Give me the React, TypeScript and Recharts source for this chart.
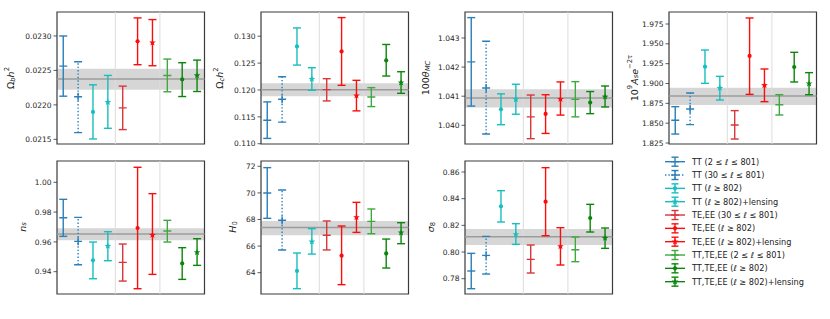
import React from "react";
import {
  ComposedChart,
  Scatter,
  ErrorBar,
  XAxis,
  YAxis,
  ReferenceArea,
  ReferenceLine,
} from "recharts";

type Tri = [number, number, number]; // [lower, value, upper]

const seriesLabels = [
  "TT (2 ≤ ℓ ≤ 801)",
  "TT (30 ≤ ℓ ≤ 801)",
  "TT (ℓ ≥ 802)",
  "TT (ℓ ≥ 802)+lensing",
  "TE,EE (30 ≤ ℓ ≤ 801)",
  "TE,EE (ℓ ≥ 802)",
  "TE,EE (ℓ ≥ 802)+lensing",
  "TT,TE,EE (2 ≤ ℓ ≤ 801)",
  "TT,TE,EE (ℓ ≥ 802)",
  "TT,TE,EE (ℓ ≥ 802)+lensing",
];

const ombh2: Tri[] = [
  [0.022126, 0.022563, 0.023],
  [0.021597, 0.022117, 0.022626],
  [0.021505, 0.021898, 0.022291],
  [0.02166, 0.022039, 0.022427],
  [0.021641, 0.021956, 0.022272],
  [0.022583, 0.022922, 0.023262],
  [0.022568, 0.022903, 0.023238],
  [0.02219, 0.022427, 0.022665],
  [0.022121, 0.02237, 0.022612],
  [0.022194, 0.022427, 0.02265],
];
const ombh2Band: Tri = [0.022218, 0.022374, 0.022524];

const omch2: Tri[] = [
  [0.11099, 0.11438, 0.11778],
  [0.11401, 0.11827, 0.12247],
  [0.12463, 0.12809, 0.13154],
  [0.11994, 0.12204, 0.12414],
  [0.11796, 0.12006, 0.1221],
  [0.12086, 0.12716, 0.13346],
  [0.11611, 0.11895, 0.12179],
  [0.11691, 0.1187, 0.12043],
  [0.12259, 0.12549, 0.12846],
  [0.11938, 0.12136, 0.12339],
];
const omch2Band: Tri = [0.11883, 0.12006, 0.12123];

const thetaMC: Tri[] = [
  [1.04066, 1.04218, 1.0437],
  [1.0397, 1.04128, 1.04289],
  [1.04002, 1.04055, 1.04108],
  [1.04038, 1.04089, 1.04141],
  [1.03954, 1.04029, 1.04104],
  [1.03972, 1.04039, 1.04105],
  [1.04035, 1.0409, 1.04149],
  [1.04029, 1.04089, 1.0415],
  [1.0404, 1.04078, 1.04116],
  [1.04063, 1.04098, 1.04135],
];
const thetaBand: Tri = [1.04061, 1.04094, 1.04124];

const amp: Tri[] = [
  [1.8363, 1.8536, 1.8708],
  [1.8481, 1.8679, 1.888],
  [1.9002, 1.9212, 1.9422],
  [1.8792, 1.8943, 1.909],
  [1.83, 1.8477, 1.8658],
  [1.8863, 1.9347, 1.9826],
  [1.8771, 1.8977, 1.9183],
  [1.8603, 1.8733, 1.8859],
  [1.9019, 1.9208, 1.9393],
  [1.8859, 1.8998, 1.9137],
];
const ampBand: Tri = [1.8729, 1.8843, 1.8947];

const ns: Tri[] = [
  [0.96372, 0.97626, 0.98858],
  [0.94468, 0.96036, 0.97648],
  [0.93527, 0.9476, 0.95991],
  [0.94737, 0.95722, 0.96685],
  [0.93371, 0.94625, 0.95857],
  [0.92856, 0.96932, 1.01008],
  [0.93819, 0.96462, 0.99239],
  [0.95991, 0.9673, 0.97447],
  [0.93483, 0.94558, 0.95611],
  [0.94424, 0.95297, 0.96215],
];
const nsBand: Tri = [0.96103, 0.96529, 0.9691];

const h0: Tri[] = [
  [68.09, 69.99, 71.9],
  [65.71, 67.94, 70.22],
  [62.8, 64.13, 65.48],
  [65.4, 66.33, 67.31],
  [65.71, 66.81, 67.89],
  [63.1, 65.28, 67.51],
  [67.03, 68.16, 69.29],
  [66.93, 67.86, 68.79],
  [64.35, 65.45, 66.53],
  [66.18, 67.01, 67.76],
];
const h0Band: Tri = [66.81, 67.39, 67.89];

const sigma8: Tri[] = [
  [0.7725, 0.78575, 0.799],
  [0.7835, 0.7975, 0.81175],
  [0.8225, 0.83425, 0.846],
  [0.80575, 0.81325, 0.82125],
  [0.78425, 0.7945, 0.80525],
  [0.81225, 0.83775, 0.86325],
  [0.79025, 0.80425, 0.81825],
  [0.79275, 0.80175, 0.81125],
  [0.815, 0.8255, 0.83575],
  [0.80275, 0.8105, 0.818],
];
const sigma8Band: Tri = [0.80525, 0.8115, 0.81725];

const ombh2Ticks = [0.0215, 0.022, 0.0225, 0.023];
const omch2Ticks = [0.11, 0.115, 0.12, 0.125, 0.13];
const thetaTicks = [1.04, 1.041, 1.042, 1.043];
const ampTicks = [1.825, 1.85, 1.875, 1.9, 1.925, 1.95, 1.975];
const nsTicks = [0.94, 0.96, 0.98, 1.0];
const h0Ticks = [64, 66, 68, 70, 72];
const sigma8Ticks = [0.78, 0.8, 0.82, 0.84, 0.86];

// styles
const colors = [
  "#2a7fba", "#2a7fba", "#17bebe", "#17bebe", "#d8363a",
  "#fb0d0d", "#fb0d0d", "#3fa83f", "#0b850b", "#0b850b",
];
const markers = ["hline", "plus", "circle", "star", "hline", "circle", "star", "hline", "circle", "star"];
const FONT = "DejaVu Sans, sans-serif";
const X_DOMAIN: [number, number] = [-0.42, 9.5];

type LabelPart = { t: string; s?: "i" | "sub" | "sup" | "isub" };

function starPath(cx: number, cy: number, ro: number, ri: number) {
  let d = "";
  for (let k = 0; k < 10; k++) {
    const r = k % 2 === 0 ? ro : ri;
    const a = -Math.PI / 2 + (k * Math.PI) / 5;
    d += (k === 0 ? "M" : "L") + (cx + r * Math.cos(a)).toFixed(2) + "," + (cy + r * Math.sin(a)).toFixed(2);
  }
  return d + "Z";
}

function Marker({ cx, cy, kind, color }: { cx?: number; cy?: number; kind: string; color: string }) {
  if (cx == null || cy == null) return null;
  if (kind === "hline")
    return <line x1={cx - 4} x2={cx + 4} y1={cy} y2={cy} stroke={color} strokeWidth={1.4} />;
  if (kind === "plus")
    return (
      <g stroke={color} strokeWidth={1.4}>
        <line x1={cx - 4} x2={cx + 4} y1={cy} y2={cy} />
        <line x1={cx} x2={cx} y1={cy - 4} y2={cy + 4} />
      </g>
    );
  if (kind === "circle") return <circle cx={cx} cy={cy} r={2.1} fill={color} />;
  return <path d={starPath(cx, cy, 3.5, 1.5)} fill={color} />;
}

interface PanelProps {
  x: number;
  y: number;
  w: number;
  h: number;
  values: Tri[];
  band: Tri;
  domain: [number, number];
  ticks: number[];
  digits: number;
}

const YW = 60;
const PAD = 4;

function Panel({ x, y, w, h, values, band, domain, ticks, digits }: PanelProps) {
  const data = values.map((v, i) => ({ x: i, y: v[1], err: [v[1] - v[0], v[2] - v[1]] }));
  const dotted = values[1];
  return (
    <div style={{ position: "absolute", left: x - YW, top: y - PAD }}>
      <ComposedChart
        width={w + YW + PAD}
        height={h + 2 * PAD}
        margin={{ top: PAD, right: PAD, bottom: PAD, left: 0 }}
      >
        <XAxis type="number" dataKey="x" domain={X_DOMAIN} hide allowDataOverflow />
        <YAxis
          type="number"
          dataKey="y"
          domain={domain}
          ticks={ticks}
          interval={0}
          allowDataOverflow
          width={YW}
          axisLine={false}
          tickLine={{ stroke: "#333", strokeWidth: 0.8 }}
          tickSize={3.5}
          tickMargin={2}
          tick={{ fontSize: 7.5, fill: "#262626", fontFamily: FONT }}
          tickFormatter={(v: number) => v.toFixed(digits)}
        />
        <ReferenceLine x={3.5} stroke="#dcdcdc" strokeWidth={1} />
        <ReferenceLine x={6.5} stroke="#dcdcdc" strokeWidth={1} />
        <ReferenceArea
          x1={X_DOMAIN[0]}
          x2={X_DOMAIN[1]}
          y1={band[0]}
          y2={band[2]}
          fill="#c4c4c4"
          fillOpacity={0.7}
          stroke="none"
        />
        <ReferenceLine y={band[1]} stroke="#9c9c9c" strokeWidth={1.5} />
        {data.map((d, i) => (
          <Scatter
            key={i}
            data={[d]}
            fill={colors[i]}
            isAnimationActive={false}
            shape={(p: any) => <Marker cx={p.cx} cy={p.cy} kind={markers[i]} color={colors[i]} />}
          >
            <ErrorBar
              dataKey="err"
              direction="y"
              width={i === 1 ? 0 : 4}
              stroke={colors[i]}
              strokeWidth={1.4}
              strokeDasharray={i === 1 ? "1.4 2" : undefined}
              isAnimationActive={false}
            />
          </Scatter>
        ))}
        <Scatter
          data={[
            { x: 1, y: dotted[0] },
            { x: 1, y: dotted[2] },
          ]}
          isAnimationActive={false}
          shape={(p: any) => <Marker cx={p.cx} cy={p.cy} kind="hline" color={colors[1]} />}
        />
        <ReferenceArea
          x1={X_DOMAIN[0]}
          x2={X_DOMAIN[1]}
          y1={domain[0]}
          y2={domain[1]}
          ifOverflow="visible"
          fill="none"
          fillOpacity={0}
          stroke="#3a3a3a"
          strokeWidth={1.2}
        />
      </ComposedChart>
    </div>
  );
}

function AxisLabel({ x, y, parts }: { x: number; y: number; parts: LabelPart[] }) {
  let shift = 0;
  return (
    <text
      transform={`translate(${x},${y}) rotate(-90)`}
      textAnchor="middle"
      dominantBaseline="central"
      fontFamily={FONT}
      fontSize={9.5}
      fill="#222"
    >
      {parts.map((p, k) => {
        const target = p.s === "sub" || p.s === "isub" ? 2.5 : p.s === "sup" ? -3.5 : 0;
        const dy = target - shift;
        shift = target;
        const small = p.s === "sub" || p.s === "isub" || p.s === "sup";
        return (
          <tspan
            key={k}
            dy={dy}
            fontSize={small ? 6.8 : 9.5}
            fontStyle={p.s === "i" || p.s === "isub" ? "italic" : "normal"}
          >
            {p.t}
          </tspan>
        );
      })}
    </text>
  );
}

function Legend() {
  const x0 = 665;
  const y0 = 161.7;
  const step = 13.33;
  return (
    <g>
      {seriesLabels.map((lab, i) => {
        const yy = y0 + i * step;
        const c = colors[i];
        const dash = i === 1 ? "1.4 2" : undefined;
        return (
          <g key={i}>
            <line x1={x0} x2={x0 + 20} y1={yy} y2={yy} stroke={c} strokeWidth={1.4} strokeDasharray={dash} />
            <line x1={x0 + 10} x2={x0 + 10} y1={yy - 4.5} y2={yy + 4.5} stroke={c} strokeWidth={1.4} strokeDasharray={dash} />
            <line x1={x0 + 6.5} x2={x0 + 13.5} y1={yy - 4.5} y2={yy - 4.5} stroke={c} strokeWidth={1.4} />
            <line x1={x0 + 6.5} x2={x0 + 13.5} y1={yy + 4.5} y2={yy + 4.5} stroke={c} strokeWidth={1.4} />
            <Marker cx={x0 + 10} cy={yy} kind={markers[i]} color={c} />
            <text x={x0 + 27} y={yy} dominantBaseline="central" fontFamily={FONT} fontSize={8.2} fill="#222">
              {lab}
            </text>
          </g>
        );
      })}
    </g>
  );
}

export default function App() {
  const topY = 12;
  const topH = 132;
  const botY = 161;
  const botH = 133;
  const W = 147.5;
  return (
    <div style={{ position: "absolute", left: 0, top: 0, width: 830, height: 319, background: "#fff", overflow: "hidden" }}>
      <Panel x={57} y={topY} w={W} h={topH} values={ombh2} band={ombh2Band} domain={[0.021432, 0.023348]} ticks={ombh2Ticks} digits={4} />
      <Panel x={261} y={topY} w={W} h={topH} values={omch2} band={omch2Band} domain={[0.10995, 0.1345]} ticks={omch2Ticks} digits={3} />
      <Panel x={464.5} y={topY} w={W} h={topH} values={thetaMC} band={thetaBand} domain={[1.039357, 1.043893]} ticks={thetaTicks} digits={3} />
      <Panel x={668.5} y={topY} w={W} h={topH} values={amp} band={ampBand} domain={[1.82374, 1.99013]} ticks={ampTicks} digits={3} />
      <Panel x={57} y={botY} w={W} h={botH} values={ns} band={nsBand} domain={[0.92502, 1.01431]} ticks={nsTicks} digits={2} />
      <Panel x={261} y={botY} w={W} h={botH} values={h0} band={h0Band} domain={[62.397, 72.399]} ticks={h0Ticks} digits={0} />
      <Panel x={464.5} y={botY} w={W} h={botH} values={sigma8} band={sigma8Band} domain={[0.76852, 0.86825]} ticks={sigma8Ticks} digits={2} />
      <svg width={830} height={319} style={{ position: "absolute", left: 0, top: 0, pointerEvents: "none" }}>
        <AxisLabel x={10} y={78} parts={[{ t: "Ω" }, { t: "b", s: "isub" }, { t: "h", s: "i" }, { t: "2", s: "sup" }]} />
        <AxisLabel x={219} y={78} parts={[{ t: "Ω" }, { t: "c", s: "isub" }, { t: "h", s: "i" }, { t: "2", s: "sup" }]} />
        <AxisLabel x={425} y={78} parts={[{ t: "100" }, { t: "θ", s: "i" }, { t: "MC", s: "isub" }]} />
        <AxisLabel x={633.5} y={78} parts={[{ t: "10" }, { t: "9", s: "sup" }, { t: "A", s: "i" }, { t: "s", s: "isub" }, { t: "e", s: "i" }, { t: "−2τ", s: "sup" }]} />
        <AxisLabel x={21.5} y={227} parts={[{ t: "n", s: "i" }, { t: "s", s: "isub" }]} />
        <AxisLabel x={232} y={227} parts={[{ t: "H", s: "i" }, { t: "0", s: "sub" }]} />
        <AxisLabel x={430} y={227} parts={[{ t: "σ", s: "i" }, { t: "8", s: "sub" }]} />
        <Legend />
      </svg>
    </div>
  );
}
